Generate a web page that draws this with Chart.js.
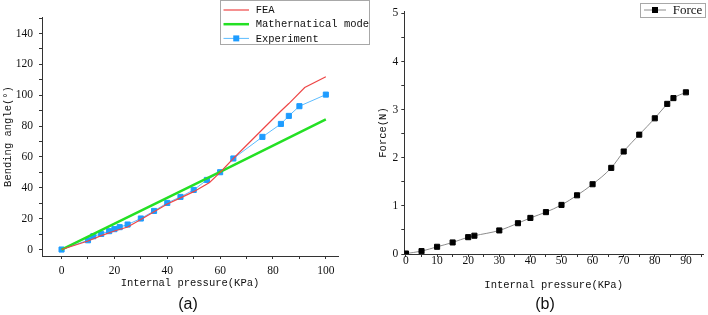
<!DOCTYPE html>
<html>
<head>
<meta charset="utf-8">
<script src="https://cdn.jsdelivr.net/npm/chart.js@4.4.1/dist/chart.umd.min.js"></script>
<style>
  body { margin: 0; width: 708px; height: 315px; position: relative; background: #fff; overflow: hidden; }
  canvas { position: absolute; top: 0; }
  .cap { position: absolute; top: 296px; font: 16px "Liberation Sans", sans-serif; line-height: 16px; color: #111; transform: translateX(-50%); }
</style>
</head>
<body>
<canvas id="chartA" width="372" height="315" style="left:0"></canvas>
<canvas id="chartB" width="354" height="315" style="left:354px"></canvas>
<div class="cap" style="left:188px">(a)</div>
<div class="cap" style="left:545px">(b)</div>
<script>
// (a) bending angle vs pressure
const feaX = [0, 10, 15, 20, 25, 30, 35, 40, 45, 50, 56, 60, 65, 83, 86, 92, 100];
const feaY = [0, 5.5, 9, 12, 14.6, 19.5, 24.5, 29.5, 33.5, 37.5, 43.5, 50, 59, 89.8, 94.6, 105, 112];
const mathX = [0, 60, 100];
const mathY = [0, 50.3, 84.4];
const expX = [0, 10, 12, 15, 18, 20, 22, 25, 30, 35, 40, 45, 50, 55, 60, 65, 76, 83, 86, 90, 100];
const expY = [0, 6, 8.6, 10.1, 11.9, 13.2, 14.5, 16.2, 20.1, 25, 30.2, 34.1, 38.6, 45.1, 50.1, 59, 73, 81.4, 86.6, 92.9, 100.4];

// (b) force vs pressure
const forceX = [0, 5, 10, 15, 20, 22, 30, 36, 40, 45, 50, 55, 60, 66, 70, 75, 80, 84, 86, 90];
const forceY = [0.01, 0.06, 0.15, 0.24, 0.35, 0.38, 0.49, 0.64, 0.75, 0.87, 1.02, 1.22, 1.45, 1.79, 2.13, 2.48, 2.82, 3.12, 3.24, 3.36];

// tick values
const aXTicks = [0, 20, 40, 60, 80, 100];
const aXMinor = [10, 30, 50, 70, 90];
const aYTicks = [0, 20, 40, 60, 80, 100, 120, 140];
const aYMinor = [10, 30, 50, 70, 90, 110, 130, 150];
const bXTicks = [0, 10, 20, 30, 40, 50, 60, 70, 80, 90];
const bXMinor = [5, 15, 25, 35, 45, 55, 65, 75, 85, 95];
const bYTicks = [0, 1, 2, 3, 4, 5];
const bYMinor = [0.5, 1.5, 2.5, 3.5, 4.5];

const pts = (xs, ys) => xs.map((x, i) => ({ x: x, y: ys[i] }));

const tickFont = { family: '"Liberation Serif", serif', size: 11.5 };
const titleFont = { family: '"Liberation Mono", monospace', size: 10.5 };

// legend drawn as a framed box like the original
const boxLegend = {
    id: 'boxLegend',
    afterDraw(chart, args, o) {
        const ctx = chart.ctx;
        ctx.save();
        ctx.strokeStyle = '#a8a8a8';
        ctx.lineWidth = 1;
        ctx.strokeRect(o.x + 0.5, o.y + 0.5, o.w, o.h);
        ctx.font = o.font;
        ctx.textBaseline = 'middle';
        chart.data.datasets.forEach((ds, i) => {
            const y = o.y + o.first + i * o.row;
            ctx.strokeStyle = ds.borderColor;
            ctx.lineWidth = ds.borderWidth;
            ctx.beginPath();
            ctx.moveTo(o.x + o.lineFrom, y);
            ctx.lineTo(o.x + o.lineTo, y);
            ctx.stroke();
            if (ds.pointRadius > 0) {
                const m = o.x + (o.lineFrom + o.lineTo) / 2;
                ctx.fillStyle = ds.pointBackgroundColor;
                ctx.fillRect(m - 3, y - 3, 6, 6);
            }
            ctx.fillStyle = '#111';
            ctx.fillText(ds.label, o.x + o.textX, y + 0.5);
        });
        ctx.restore();
    }
};

function axis(min, max, major, minor, size, titleText) {
    return {
        type: 'linear',
        min: min,
        max: max,
        afterBuildTicks: s => {
            s.ticks = major.concat(minor).sort((a, b) => a - b).map(v => ({ value: v }));
        },
        afterFit: s => {
            if (s.isHorizontal()) s.height = size; else s.width = size;
        },
        grid: { drawOnChartArea: false, drawTicks: true, tickLength: 3, tickColor: '#333' },
        border: { display: true, color: '#333', width: 1 },
        ticks: {
            autoSkip: false,
            maxRotation: 0,
            padding: 7,
            color: '#111',
            font: tickFont,
            callback: v => (major.includes(v) ? String(v) : '')
        },
        title: { display: true, text: titleText, color: '#111', font: titleFont, padding: 0 }
    };
}

// ---- chart (a)
const axA_x = axis(-7.4, 104.6, aXTicks, aXMinor, 33.6, 'Internal pressure(KPa)');
axA_x.ticks.padding = 5;
const axA_y = axis(-4.2, 150.7, aYTicks, aYMinor, 40.3, 'Bending angle(°)');
axA_y.ticks.padding = 6;

new Chart(document.getElementById('chartA'), {
    type: 'line',
    data: {
        datasets: [
            {
                label: 'FEA',
                data: pts(feaX, feaY),
                borderColor: '#ee4646',
                borderWidth: 1.2,
                pointRadius: 0,
                tension: 0
            },
            {
                label: 'Mathernatical mode',
                data: pts(mathX, mathY),
                borderColor: '#24e024',
                borderWidth: 2.5,
                pointRadius: 0,
                tension: 0
            },
            {
                label: 'Experiment',
                data: pts(expX, expY),
                borderColor: '#5cbcff',
                borderWidth: 1,
                pointStyle: 'rect',
                pointRadius: 3.6,
                pointBorderWidth: 1,
                pointBackgroundColor: '#1e9cff',
                pointBorderColor: '#1e9cff',
                tension: 0
            }
        ]
    },
    options: {
        responsive: false,
        animation: false,
        layout: { padding: { left: 1.7, right: 34, top: 17, bottom: 25.4 } },
        scales: { x: axA_x, y: axA_y },
        plugins: {
            legend: { display: false },
            tooltip: { enabled: false },
            boxLegend: {
                x: 220, y: 0, w: 149, h: 44, first: 10, row: 14.2,
                lineFrom: 3.5, lineTo: 29, textX: 35.7,
                font: '10.5px "Liberation Mono", monospace'
            }
        }
    },
    plugins: [boxLegend]
});

// ---- chart (b)
const axB_x = axis(-0.54, 95.5, bXTicks, bXMinor, 37.3, 'Internal pressure(KPa)');
axB_x.ticks.padding = -3;
const axB_y = axis(0, 5.05, bYTicks, bYMinor, 27.6, 'Force(N)');
axB_y.ticks.padding = 3;

new Chart(document.getElementById('chartB'), {
    type: 'line',
    data: {
        datasets: [
            {
                label: 'Force',
                data: pts(forceX, forceY),
                borderColor: '#8c8c8c',
                borderWidth: 1,
                pointStyle: 'rect',
                pointRadius: 3.6,
                pointBorderWidth: 1,
                pointBackgroundColor: '#000',
                pointBorderColor: '#000',
                cubicInterpolationMode: 'monotone',
                clip: 0
            }
        ]
    },
    options: {
        responsive: false,
        animation: false,
        layout: { padding: { left: 22.7, right: 2, top: 11, bottom: 23.7 } },
        scales: { x: axB_x, y: axB_y },
        plugins: {
            legend: { display: false },
            tooltip: { enabled: false },
            boxLegend: {
                x: 286, y: 3, w: 65, h: 14, first: 7, row: 14,
                lineFrom: 4, lineTo: 26, textX: 32.7,
                font: '13px "Liberation Serif", serif'
            }
        }
    },
    plugins: [boxLegend]
});
</script>
</body>
</html>
